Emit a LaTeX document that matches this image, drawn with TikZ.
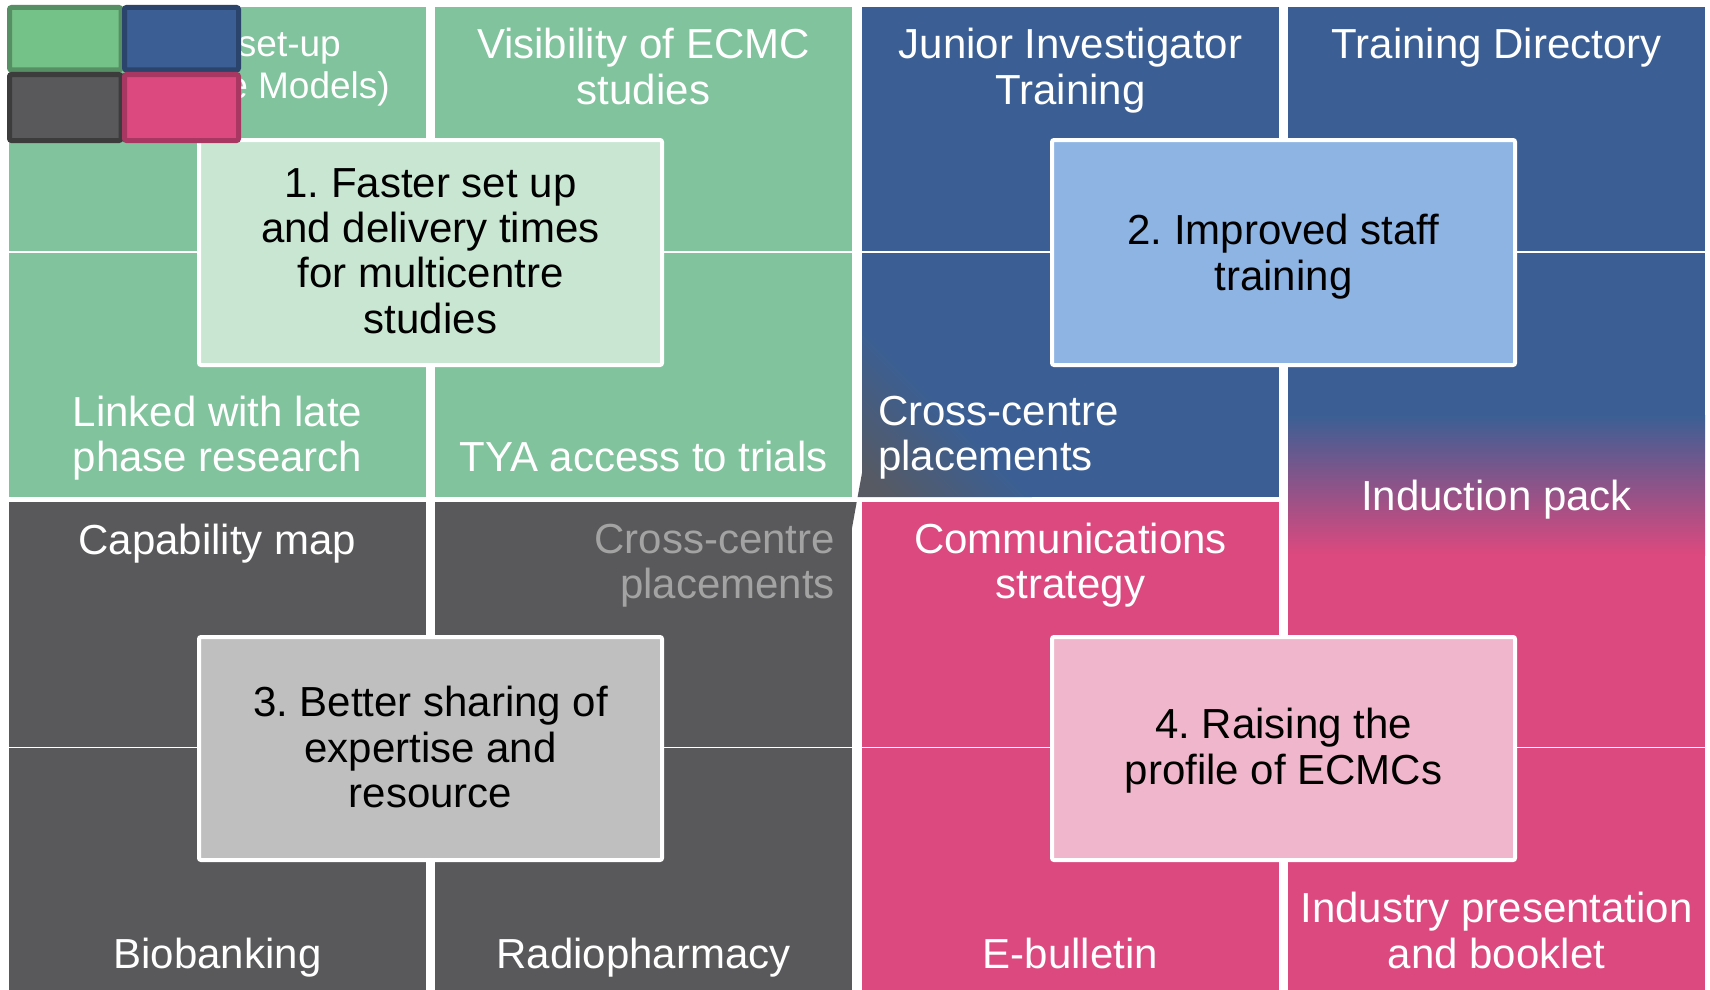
\documentclass[tikz,border=0pt]{standalone}
\usepackage{fontspec}
\setmainfont{Liberation Sans}
\frenchspacing
\definecolor{tgreen}{HTML}{80C39D}
\definecolor{tblue}{HTML}{3B5F94}
\definecolor{tgray}{HTML}{59595B}
\definecolor{tpink}{HTML}{DC497E}
\definecolor{bgreen}{HTML}{C8E6D2}
\definecolor{bblue}{HTML}{8EB4E3}
\definecolor{bgray}{HTML}{BFBFBF}
\definecolor{bpink}{HTML}{F0B6CB}
\definecolor{fadetext}{HTML}{A3A3A3}
\definecolor{bluegray}{HTML}{575A62}
\definecolor{lgreen}{HTML}{75C288}
\definecolor{lgreenb}{HTML}{578F64}
\definecolor{lblueb}{HTML}{2A446C}
\definecolor{lgrayb}{HTML}{3C3C3C}
\definecolor{lpinkb}{HTML}{A83762}
\pgfdeclarehorizontalshading{cornergray}{100bp}{color(0bp)=(bluegray); color(19bp)=(bluegray); color(50bp)=(tblue); color(100bp)=(tblue)}
\tikzset{
  ttext/.style={text=white, inner sep=0pt, font=\fontsize{42}{45}\selectfont},
  smalltext/.style={text=white, inner sep=0pt, font=\fontsize{37}{41}\selectfont},
  fadedtext/.style={text=fadetext, inner sep=0pt, font=\fontsize{42}{45}\selectfont},
  btext/.style={text=black, inner sep=0pt, font=\fontsize{42}{45}\selectfont},
  goalbox/.style={draw=white, line width=4pt, rounded corners=2pt},
  legendsq/.style={line width=5pt, rounded corners=2pt},
}
\begin{document}
\begin{tikzpicture}[x=1pt,y=-1pt]
\useasboundingbox[fill=white] (0,0) rectangle (1710,990);
% green quadrant
\fill[tgreen] (9,7) rectangle (426,251);
\fill[tgreen] (435,7) rectangle (852,251);
\fill[tgreen] (9,252.5) rectangle (426,497);
\fill[tgreen] (435,252.5) rectangle (852,497);
% blue quadrant
\fill[tblue] (862,7) rectangle (1279,251);
\fill[tblue] (1288,7) rectangle (1705,251);
\fill[tblue] (862,252.5) rectangle (1279,497);
\shade[shading=cornergray, shading angle=45] (862,497) -- (1032,497) -- (862,327) -- cycle;
% merged column tile (blue to pink)
\fill[tblue] (1288,252.5) rectangle (1705,415.5);
\shade[top color=tblue, bottom color=tpink] (1288,415) rectangle (1705,555);
\fill[tpink] (1288,554.5) rectangle (1705,746.5);
% gray quadrant
\fill[tgray] (9,502) rectangle (426,746.5);
\fill[tgray] (435,502) rectangle (852,746.5);
\fill[tgray] (9,748) rectangle (426,990);
\fill[tgray] (435,748) rectangle (852,990);
% pink quadrant
\fill[tpink] (862,502) rectangle (1279,746.5);
\fill[tpink] (862,748) rectangle (1279,990);
\fill[tpink] (1288,748) rectangle (1705,990);
% slanted slivers across the gap
\fill[bluegray] (862,473) -- (862,497) -- (857.6,497) -- cycle;
\fill[tgray] (852,502) -- (856.7,502) -- (852,528) -- cycle;

% tile texts
\node[smalltext, anchor=base east] (t1a) at (341,57) {set-up};
\node[smalltext, anchor=base east] (t1b) at (390,98) {e Models)};
\node[ttext, anchor=base] (t2a) at (643.5,59) {Visibility of ECMC};
\node[ttext, anchor=base] (t2b) at (643.5,104) {studies};
\node[ttext, anchor=base] (t3a) at (217.5,426) {Linked with late};
\node[ttext, anchor=base] (t3b) at (217.5,471) {phase research};
\node[ttext, anchor=base] (t4a) at (643.5,471) {TYA access to trials};

\node[ttext, anchor=base] (t5a) at (1070.5,59) {Junior Investigator};
\node[ttext, anchor=base] (t5b) at (1070.5,104) {Training};
\node[ttext, anchor=base] (t6a) at (1496.5,59) {Training Directory};
\node[ttext, anchor=base west] (t7a) at (878,425) {Cross-centre};
\node[ttext, anchor=base west] (t7b) at (878,470) {placements};
\node[ttext, anchor=base] (t8a) at (1496.5,510) {Induction pack};

\node[ttext, anchor=base] (t9a) at (217.5,554) {Capability map};
\node[fadedtext, anchor=base east] (t10a) at (835,553) {Cross-centre};
\node[fadedtext, anchor=base east] (t10b) at (835,598) {placements};
\node[ttext, anchor=base] (t11a) at (217.5,968) {Biobanking};
\node[ttext, anchor=base] (t12a) at (643.5,968) {Radiopharmacy};

\node[ttext, anchor=base] (t13a) at (1070.5,553) {Communications};
\node[ttext, anchor=base] (t13b) at (1070.5,598) {strategy};
\node[ttext, anchor=base] (t14a) at (1070.5,968) {E-bulletin};
\node[ttext, anchor=base] (t15a) at (1496.5,922) {Industry presentation};
\node[ttext, anchor=base] (t15b) at (1496.5,968) {and booklet};

% goal boxes
\filldraw[goalbox, fill=bgreen] (199,140) rectangle (662,365);
\filldraw[goalbox, fill=bblue] (1052,140) rectangle (1515,365);
\filldraw[goalbox, fill=bgray] (199,637) rectangle (662,860);
\filldraw[goalbox, fill=bpink] (1052,637) rectangle (1515,860);

\node[btext, anchor=base] (g1a) at (430.5,197) {1. Faster set up};
\node[btext, anchor=base] (g1b) at (430.5,242) {and delivery times};
\node[btext, anchor=base] (g1c) at (430.5,287) {for multicentre};
\node[btext, anchor=base] (g1d) at (430.5,333) {studies};

\node[btext, anchor=base] (g2a) at (1283.5,244) {2. Improved staff};
\node[btext, anchor=base] (g2b) at (1283.5,290) {training};

\node[btext, anchor=base] (g3a) at (430.5,716) {3. Better sharing of};
\node[btext, anchor=base] (g3b) at (430.5,762) {expertise and};
\node[btext, anchor=base] (g3c) at (430.5,807) {resource};

\node[btext, anchor=base] (g4a) at (1283.5,738) {4. Raising the};
\node[btext, anchor=base] (g4b) at (1283.5,784) {profile of ECMCs};

% legend squares
\filldraw[legendsq, fill=lgreen, draw=lgreenb] (9.5,7.5) rectangle (121,70);
\filldraw[legendsq, fill=tblue, draw=lblueb] (124.5,7.5) rectangle (238.5,70);
\filldraw[legendsq, fill=tgray, draw=lgrayb] (9.5,74.5) rectangle (121,140.5);
\filldraw[legendsq, fill=tpink, draw=lpinkb] (124.5,74.5) rectangle (238.5,140.5);
\end{tikzpicture}
\end{document}
